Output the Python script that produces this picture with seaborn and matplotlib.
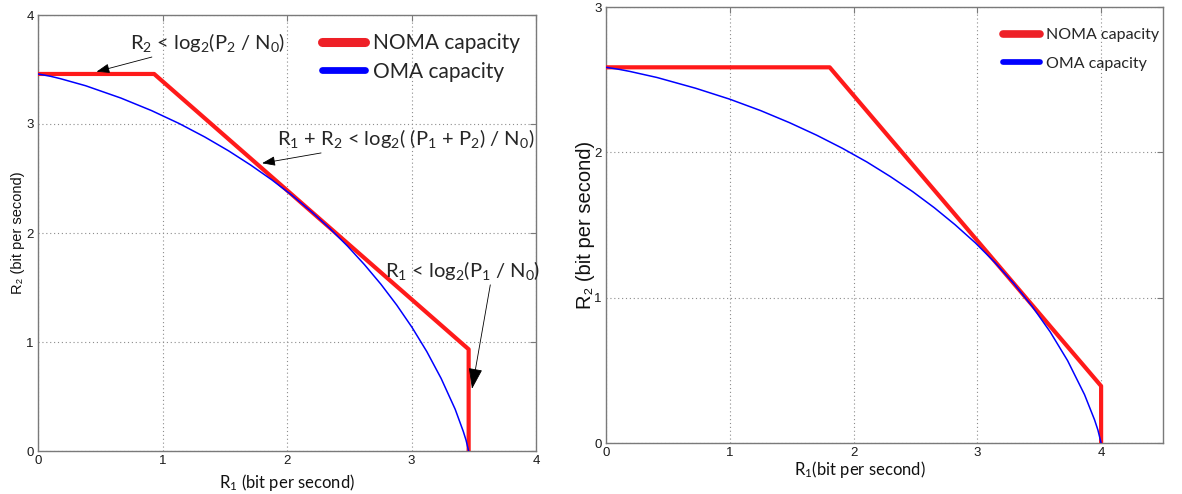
import matplotlib
matplotlib.use("Agg")
import matplotlib.pyplot as plt
import seaborn as sns
from matplotlib.lines import Line2D

# ---------------- data ----------------
# Left panel: symmetric powers
left_noma_r1 = [0.0, 0.933, 3.459, 3.459]
left_noma_r2 = [3.459, 3.459, 0.933, 0.0]
left_oma_r1 = [0, 0.0997, 0.1794, 0.3826, 0.6658, 0.912, 1.1345, 1.3394, 1.5304, 1.710,
               1.880, 2.042, 2.196, 2.344, 2.486, 2.622, 2.754, 2.881, 3.004, 3.123,
               3.238, 3.351, 3.416, 3.438, 3.459]
left_oma_r2 = [3.459, 3.438, 3.416, 3.351, 3.238, 3.123, 3.004, 2.881, 2.754, 2.622,
               2.486, 2.344, 2.196, 2.042, 1.880, 1.710, 1.5304, 1.3394, 1.1345, 0.912,
               0.6658, 0.3826, 0.1794, 0.0997, 0]

# Right panel: asymmetric powers
right_noma_r1 = [0.0, 1.807, 4.0, 4.0]
right_noma_r2 = [2.585, 2.585, 0.392, 0.0]
right_oma_r1 = [0, 0.1055, 0.1911, 0.4117, 0.7239, 0.9987, 1.2497, 1.4828, 1.7017, 1.9093,
                2.1069, 2.2958, 2.477, 2.652, 2.820, 2.984, 3.141, 3.294, 3.443, 3.588,
                3.729, 3.866, 3.947, 3.974, 4.000]
right_oma_r2 = [2.585, 2.571, 2.557, 2.515, 2.441, 2.366, 2.287, 2.204, 2.118, 2.028,
                1.934, 1.834, 1.730, 1.619, 1.502, 1.377, 1.243, 1.098, 0.9401, 0.7653,
                0.5672, 0.3329, 0.1594, 0.0897, 0]

left_ticks = [0, 1, 2, 3, 4]
right_xticks = [0, 1, 2, 3, 4]
right_yticks = [0, 1, 2, 3]
series_labels = ["NOMA capacity", "OMA capacity"]

# ---------------- style ----------------
sns.set_theme(style="white")
plt.rcParams["font.family"] = ["Liberation Sans", "DejaVu Sans"]
plt.rcParams["mathtext.fontset"] = "custom"
plt.rcParams["mathtext.rm"] = "Lato"
plt.rcParams["mathtext.it"] = "Lato:italic"
plt.rcParams["mathtext.bf"] = "Lato:bold"
plt.rcParams["mathtext.default"] = "rm"

RED = "#ff1a1a"
BLUE = "#0000ff"
CAL = ["Lato", "DejaVu Sans"]
ARIAL = ["Liberation Sans", "DejaVu Sans"]
NARROW = ["Liberation Sans Narrow", "Liberation Sans", "DejaVu Sans"]

W, H = 1182, 494
fig = plt.figure(figsize=(W / 100, H / 100), dpi=100)
fig.patch.set_facecolor("white")

axL = fig.add_axes([38 / W, 1 - 451 / H, (536 - 38) / W, (451 - 15) / H])
axR = fig.add_axes([606 / W, 1 - 443 / H, (1163 - 606) / W, (443 - 7) / H])


def style(ax, xlim, ylim, xt, yt):
    ax.set_xlim(*xlim)
    ax.set_ylim(*ylim)
    ax.set_xticks(xt)
    ax.set_yticks(yt)
    ax.grid(True, linestyle=(0, (1, 2.5)), color="#8c8c8c", lw=0.8)
    ax.tick_params(direction="in", length=4, width=0.8, color="#7a7a7a",
                   top=True, right=True, labelsize=9.5, pad=3,
                   labelcolor="#1a1a1a")
    for lbl in ax.get_xticklabels() + ax.get_yticklabels():
        lbl.set_fontfamily(NARROW)
    for s in ax.spines.values():
        s.set_color("#7a7a7a")
        s.set_linewidth(1.0)
        s.set_visible(True)
    ax.set_facecolor("white")


def draw(ax, nr1, nr2, or1, or2, lw_red):
    sns.lineplot(x=nr1, y=nr2, ax=ax, sort=False, estimator=None, color=RED,
                 lw=lw_red, legend=False, zorder=3)
    sns.lineplot(x=or1, y=or2, ax=ax, sort=False, estimator=None, color=BLUE,
                 lw=1.1, legend=False, zorder=4)


draw(axL, left_noma_r1, left_noma_r2, left_oma_r1, left_oma_r2, 3.0)
draw(axR, right_noma_r1, right_noma_r2, right_oma_r1, right_oma_r2, 3.0)

style(axL, (0, 4), (0, 4), left_ticks, left_ticks)
style(axR, (0, 4.5), (0, 3), right_xticks, right_yticks)

# axis labels
axL.set_xlabel("R$_1$ (bit per second)", fontsize=12, family=CAL, color="#111")
axL.xaxis.set_label_coords(0.5, -0.049)
axL.set_ylabel("R\u2082 (bit per second)", fontsize=10.5, family=ARIAL, color="#111")
axL.yaxis.set_label_coords(-0.027, 0.5)

axR.set_xlabel("R$_1$(bit per second)", fontsize=12, family=CAL, color="#111")
axR.xaxis.set_label_coords((860 - 606) / 557, -0.037)
axR.set_ylabel("R\u2082 (bit per second)", fontsize=14.5, family=ARIAL, color="#111")
axR.yaxis.set_label_coords(-0.019, 0.5)


# legends
def legend(ax, x, y, fs, hl, lw, ls):
    handles = [Line2D([0], [0], color="#ee2027", lw=lw),
               Line2D([0], [0], color="#0000ff", lw=lw * 0.75)]
    ax.legend(handles=handles, labels=series_labels, loc="upper left",
              bbox_to_anchor=(x, y), frameon=False, borderpad=0,
              borderaxespad=0, handlelength=hl, handletextpad=0.4,
              labelspacing=ls, prop={"family": CAL, "size": fs})


legend(axL, (322 - 38) / 498, (451 - 33) / 436, 15, 2.05, 6.5, 0.42)
legend(axR, (1003 - 606) / 557, (443 - 28) / 436, 11.5, 2.3, 5.5, 0.9)

# annotations (left panel)
small_arrow = dict(arrowstyle="-|>,head_length=0.55,head_width=0.2", color="black",
                   lw=0.6, shrinkA=0, shrinkB=0)
axL.annotate("R$_2$ < log$_2$(P$_2$ / N$_0$)", xy=(0.47, 3.48), xytext=(0.74, 3.75),
             ha="left", va="center", fontsize=14.5, family=CAL, arrowprops=small_arrow)
axL.annotate("R$_1$ + R$_2$ < log$_2$( (P$_1$ + P$_2$) / N$_0$)", xy=(1.80, 2.64),
             xytext=(1.92, 2.87), ha="left", va="center", fontsize=14.5, family=CAL,
             arrowprops=small_arrow)
axL.annotate("R$_1$ < log$_2$(P$_1$ / N$_0$)", xy=(3.486, 0.57), xytext=(2.79, 1.66),
             ha="left", va="center", fontsize=14.5, family=CAL,
             arrowprops=dict(arrowstyle="-|>,head_length=0.9,head_width=0.3",
                             color="black", lw=0.6, shrinkA=0, shrinkB=0,
                             relpos=(0.68, 0.0)))

fig.savefig("out.png", dpi=100, facecolor="white")
